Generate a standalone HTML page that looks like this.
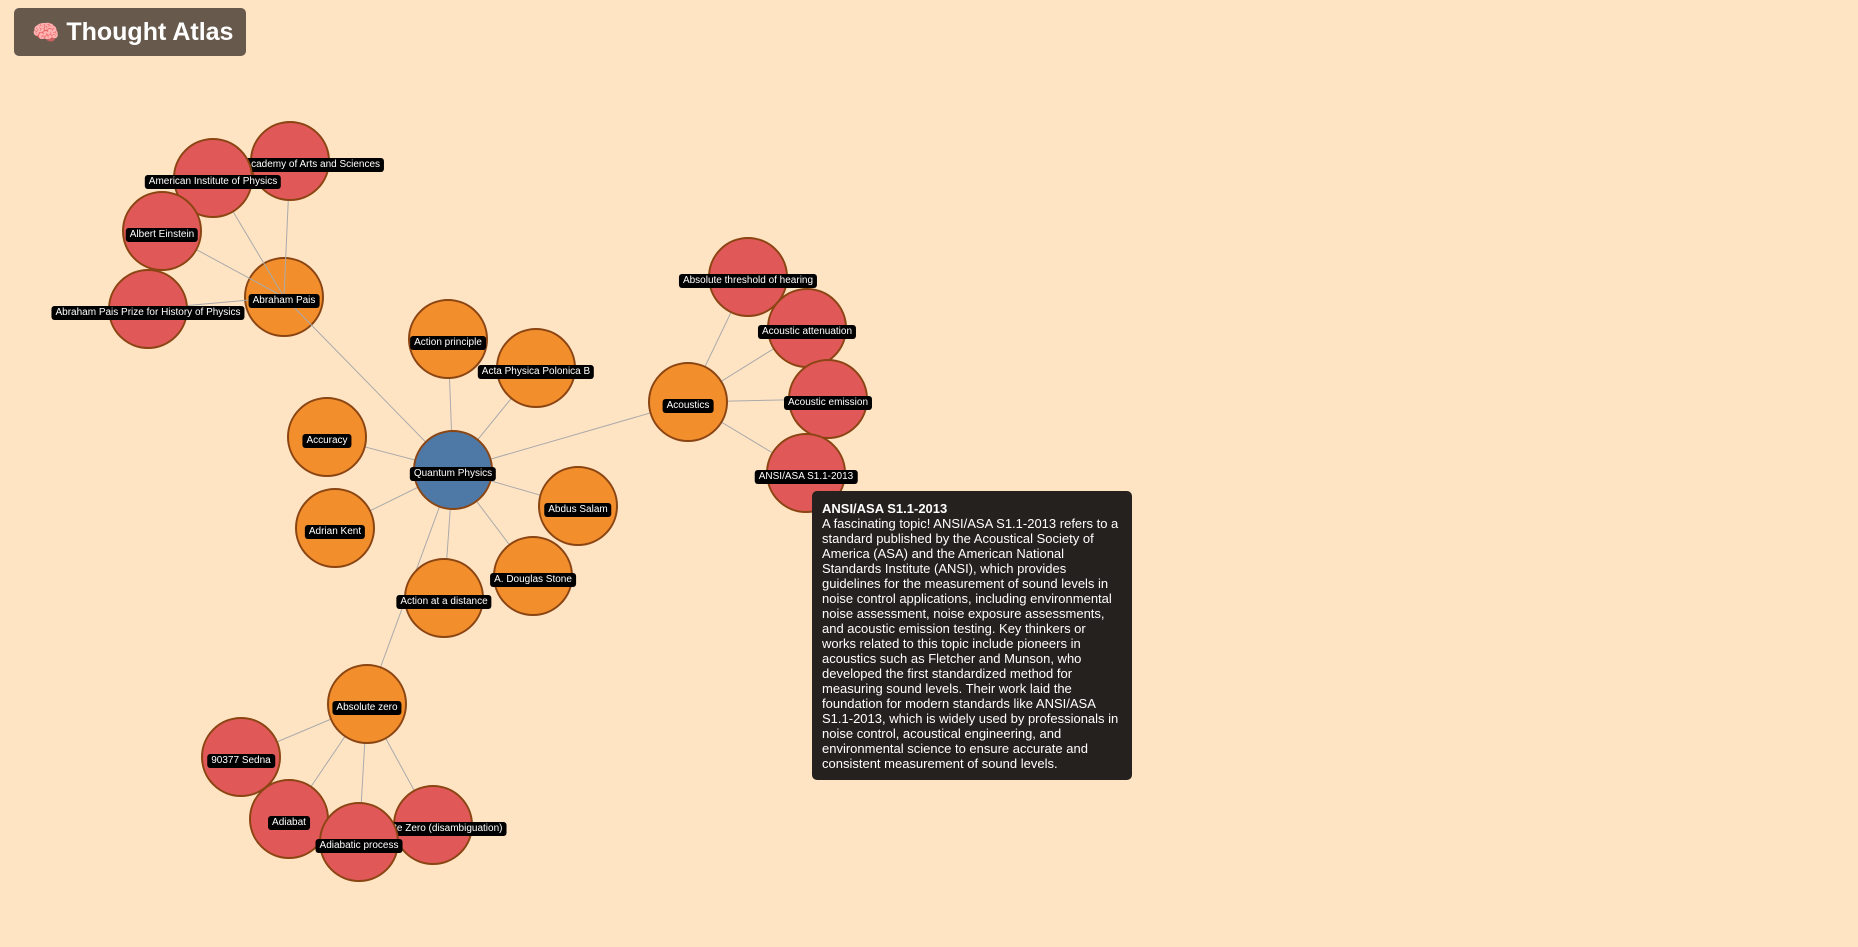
<!DOCTYPE html>
<html><head><meta charset="utf-8"><style>
html,body{margin:0;padding:0;width:1858px;height:947px;overflow:hidden;background:#ffe4c4;font-family:"Liberation Sans",sans-serif;}
.hdr{position:absolute;left:14px;top:8px;width:232px;height:48px;background:#675a4d;border-radius:5px;color:#fff;font-weight:bold;font-size:25px;line-height:48px;box-sizing:border-box;padding-left:18px;white-space:nowrap;}
.n{position:absolute;width:80px;height:80px;border-radius:50%;border:2px solid #8b4513;box-sizing:border-box;transform:translate(-50%,-50%);}
.r{background:#e05858}.o{background:#f28f2c}.b{background:#4e79a7}
.l{position:absolute;transform:translate(-50%,-50%);margin-top:1px;background:#000;color:#fff;font-size:10px;line-height:14px;padding:0 4px;border-radius:3px;white-space:nowrap;}
svg{position:absolute;left:0;top:0}
.tip{position:absolute;left:812px;top:491px;width:320px;height:289px;background:#25211e;border-radius:5px;color:#fff;font-size:13px;line-height:15px;box-sizing:border-box;padding:10px 10px 0 10px;}
</style></head><body>
<div class="hdr"><span style="font-size:22px">🧠</span> Thought Atlas</div>

<div class="n o" style="left:284px;top:297px"></div>
<svg width="1858" height="947"><g stroke="#aaa" stroke-width="1">
<line x1="453" y1="470" x2="284" y2="297"/><line x1="453" y1="470" x2="448" y2="339"/><line x1="453" y1="470" x2="536" y2="368"/><line x1="453" y1="470" x2="327" y2="437"/><line x1="453" y1="470" x2="335" y2="528"/><line x1="453" y1="470" x2="578" y2="506"/><line x1="453" y1="470" x2="533" y2="576"/><line x1="453" y1="470" x2="444" y2="598"/><line x1="453" y1="470" x2="367" y2="704"/><line x1="453" y1="470" x2="688" y2="402"/>
<line x1="284" y1="297" x2="290" y2="161"/><line x1="284" y1="297" x2="213" y2="178"/><line x1="284" y1="297" x2="162" y2="231"/><line x1="284" y1="297" x2="148" y2="309"/>
<line x1="688" y1="402" x2="748" y2="277"/><line x1="688" y1="402" x2="807" y2="328"/><line x1="688" y1="402" x2="828" y2="399"/><line x1="688" y1="402" x2="806" y2="473"/>
<line x1="367" y1="704" x2="241" y2="757"/><line x1="367" y1="704" x2="289" y2="819"/><line x1="367" y1="704" x2="359" y2="842"/><line x1="367" y1="704" x2="433" y2="825"/>
</g></svg>
<div class="l" style="left:284px;top:300px">Abraham Pais</div>

<div class="n r" style="left:290px;top:161px"></div><div class="l" style="left:290px;top:164px">American Academy of Arts and Sciences</div>
<div class="n r" style="left:213px;top:178px"></div><div class="l" style="left:213px;top:181px">American Institute of Physics</div>
<div class="n r" style="left:162px;top:231px"></div><div class="l" style="left:162px;top:234px">Albert Einstein</div>
<div class="n r" style="left:148px;top:309px"></div><div class="l" style="left:148px;top:312px">Abraham Pais Prize for History of Physics</div>

<div class="n o" style="left:448px;top:339px"></div><div class="l" style="left:448px;top:342px">Action principle</div>
<div class="n o" style="left:536px;top:368px"></div><div class="l" style="left:536px;top:371px">Acta Physica Polonica B</div>
<div class="n o" style="left:327px;top:437px"></div><div class="l" style="left:327px;top:440px">Accuracy</div>
<div class="n o" style="left:335px;top:528px"></div><div class="l" style="left:335px;top:531px">Adrian Kent</div>
<div class="n o" style="left:578px;top:506px"></div><div class="l" style="left:578px;top:509px">Abdus Salam</div>
<div class="n o" style="left:533px;top:576px"></div><div class="l" style="left:533px;top:579px">A. Douglas Stone</div>
<div class="n o" style="left:444px;top:598px"></div><div class="l" style="left:444px;top:601px">Action at a distance</div>
<div class="n b" style="left:453px;top:470px"></div><div class="l" style="left:453px;top:473px">Quantum Physics</div>

<div class="n o" style="left:688px;top:402px"></div><div class="l" style="left:688px;top:405px">Acoustics</div>
<div class="n r" style="left:748px;top:277px"></div><div class="l" style="left:748px;top:280px">Absolute threshold of hearing</div>
<div class="n r" style="left:807px;top:328px"></div><div class="l" style="left:807px;top:331px">Acoustic attenuation</div>
<div class="n r" style="left:828px;top:399px"></div><div class="l" style="left:828px;top:402px">Acoustic emission</div>
<div class="n r" style="left:806px;top:473px"></div><div class="l" style="left:806px;top:476px">ANSI/ASA S1.1-2013</div>

<div class="n o" style="left:367px;top:704px"></div><div class="l" style="left:367px;top:707px">Absolute zero</div>
<div class="n r" style="left:241px;top:757px"></div><div class="l" style="left:241px;top:760px">90377 Sedna</div>
<div class="n r" style="left:433px;top:825px"></div><div class="l" style="left:433px;top:828px">Absolute Zero (disambiguation)</div>
<div class="n r" style="left:289px;top:819px"></div><div class="l" style="left:289px;top:822px">Adiabat</div>
<div class="n r" style="left:359px;top:842px"></div><div class="l" style="left:359px;top:845px">Adiabatic process</div>

<div class="tip"><b>ANSI/ASA S1.1-2013</b><br>A fascinating topic! ANSI/ASA S1.1-2013 refers to a standard published by the Acoustical Society of America (ASA) and the American National Standards Institute (ANSI), which provides guidelines for the measurement of sound levels in noise control applications, including environmental noise assessment, noise exposure assessments, and acoustic emission testing. Key thinkers or works related to this topic include pioneers in acoustics such as Fletcher and Munson, who developed the first standardized method for measuring sound levels. Their work laid the foundation for modern standards like ANSI/ASA S1.1-2013, which is widely used by professionals in noise control, acoustical engineering, and environmental science to ensure accurate and consistent measurement of sound levels.</div>
</body></html>
